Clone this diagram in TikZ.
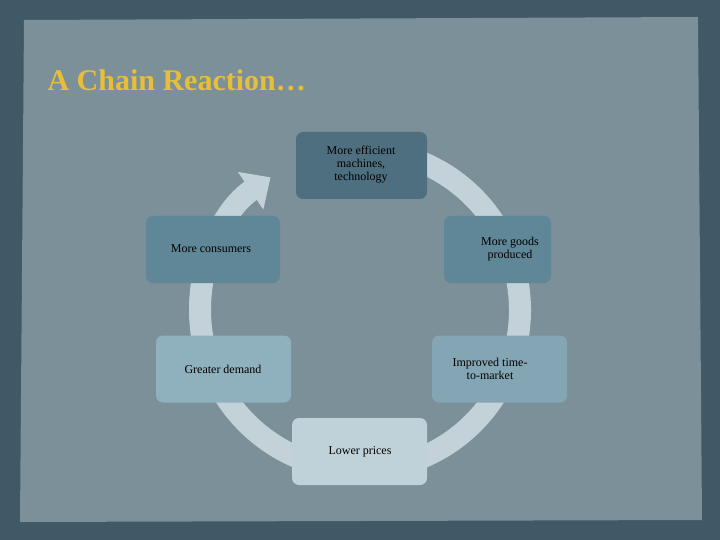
\documentclass[tikz,border=0pt]{standalone}
\usepackage{fontspec}
\setmainfont{Liberation Serif}
\usetikzlibrary{arrows.meta}
\definecolor{bgdark}{HTML}{3F5966}
\definecolor{panel}{HTML}{7B9098}
\definecolor{ring}{HTML}{C3D2D8}
\definecolor{gold}{HTML}{E8BE38}
\begin{document}
\begin{tikzpicture}[x=1pt,y=-1pt,
  box/.style={rounded corners=7pt,minimum width=#1,minimum height=67pt,inner sep=3pt},
  lbl/.style={align=center,font=\fontsize{12}{13}\selectfont}]
\useasboundingbox (0,0) rectangle (720,540);
\fill[bgdark] (0,0) rectangle (720,540);
\fill[panel] (24,20) -- (698,17) -- (702,520) -- (20,522) -- cycle;
\node[anchor=west,text=gold,font=\fontsize{30}{32}\bfseries\selectfont] (title) at (44,80) {A Chain Reaction…};
\draw[ring,line width=22pt,-{Triangle[width=44pt,length=24pt]}] (360,310) ++(-95:160) arc[start angle=-95,end angle=236,radius=160];
\node[box=131pt,fill={rgb,255:red,78;green,111;blue,128}] (a) at (361.5,165.5) {};
\node[lbl] at (361,165) {More efficient\\machines,\\technology};
\node[box=107pt,fill={rgb,255:red,95;green,135;blue,151}] (b) at (497.5,249.5) {};
\node[lbl] at (510,249) {More goods\\produced};
\node[box=134pt,fill={rgb,255:red,95;green,135;blue,151}] (c) at (213,249.5) {};
\node[lbl] at (211,249) {More consumers};
\node[box=135pt,fill={rgb,255:red,132;green,166;blue,180}] (d) at (499.5,369) {};
\node[lbl] at (490,369) {Improved time-\\to-market};
\node[box=135pt,fill={rgb,255:red,143;green,176;blue,189}] (e) at (223.5,369) {};
\node[lbl] at (223,369) {Greater demand};
\node[box=135pt,fill={rgb,255:red,192;green,210;blue,217}] (f) at (359.5,451.5) {};
\node[lbl] at (360,452) {Lower prices};
\end{tikzpicture}
\end{document}
